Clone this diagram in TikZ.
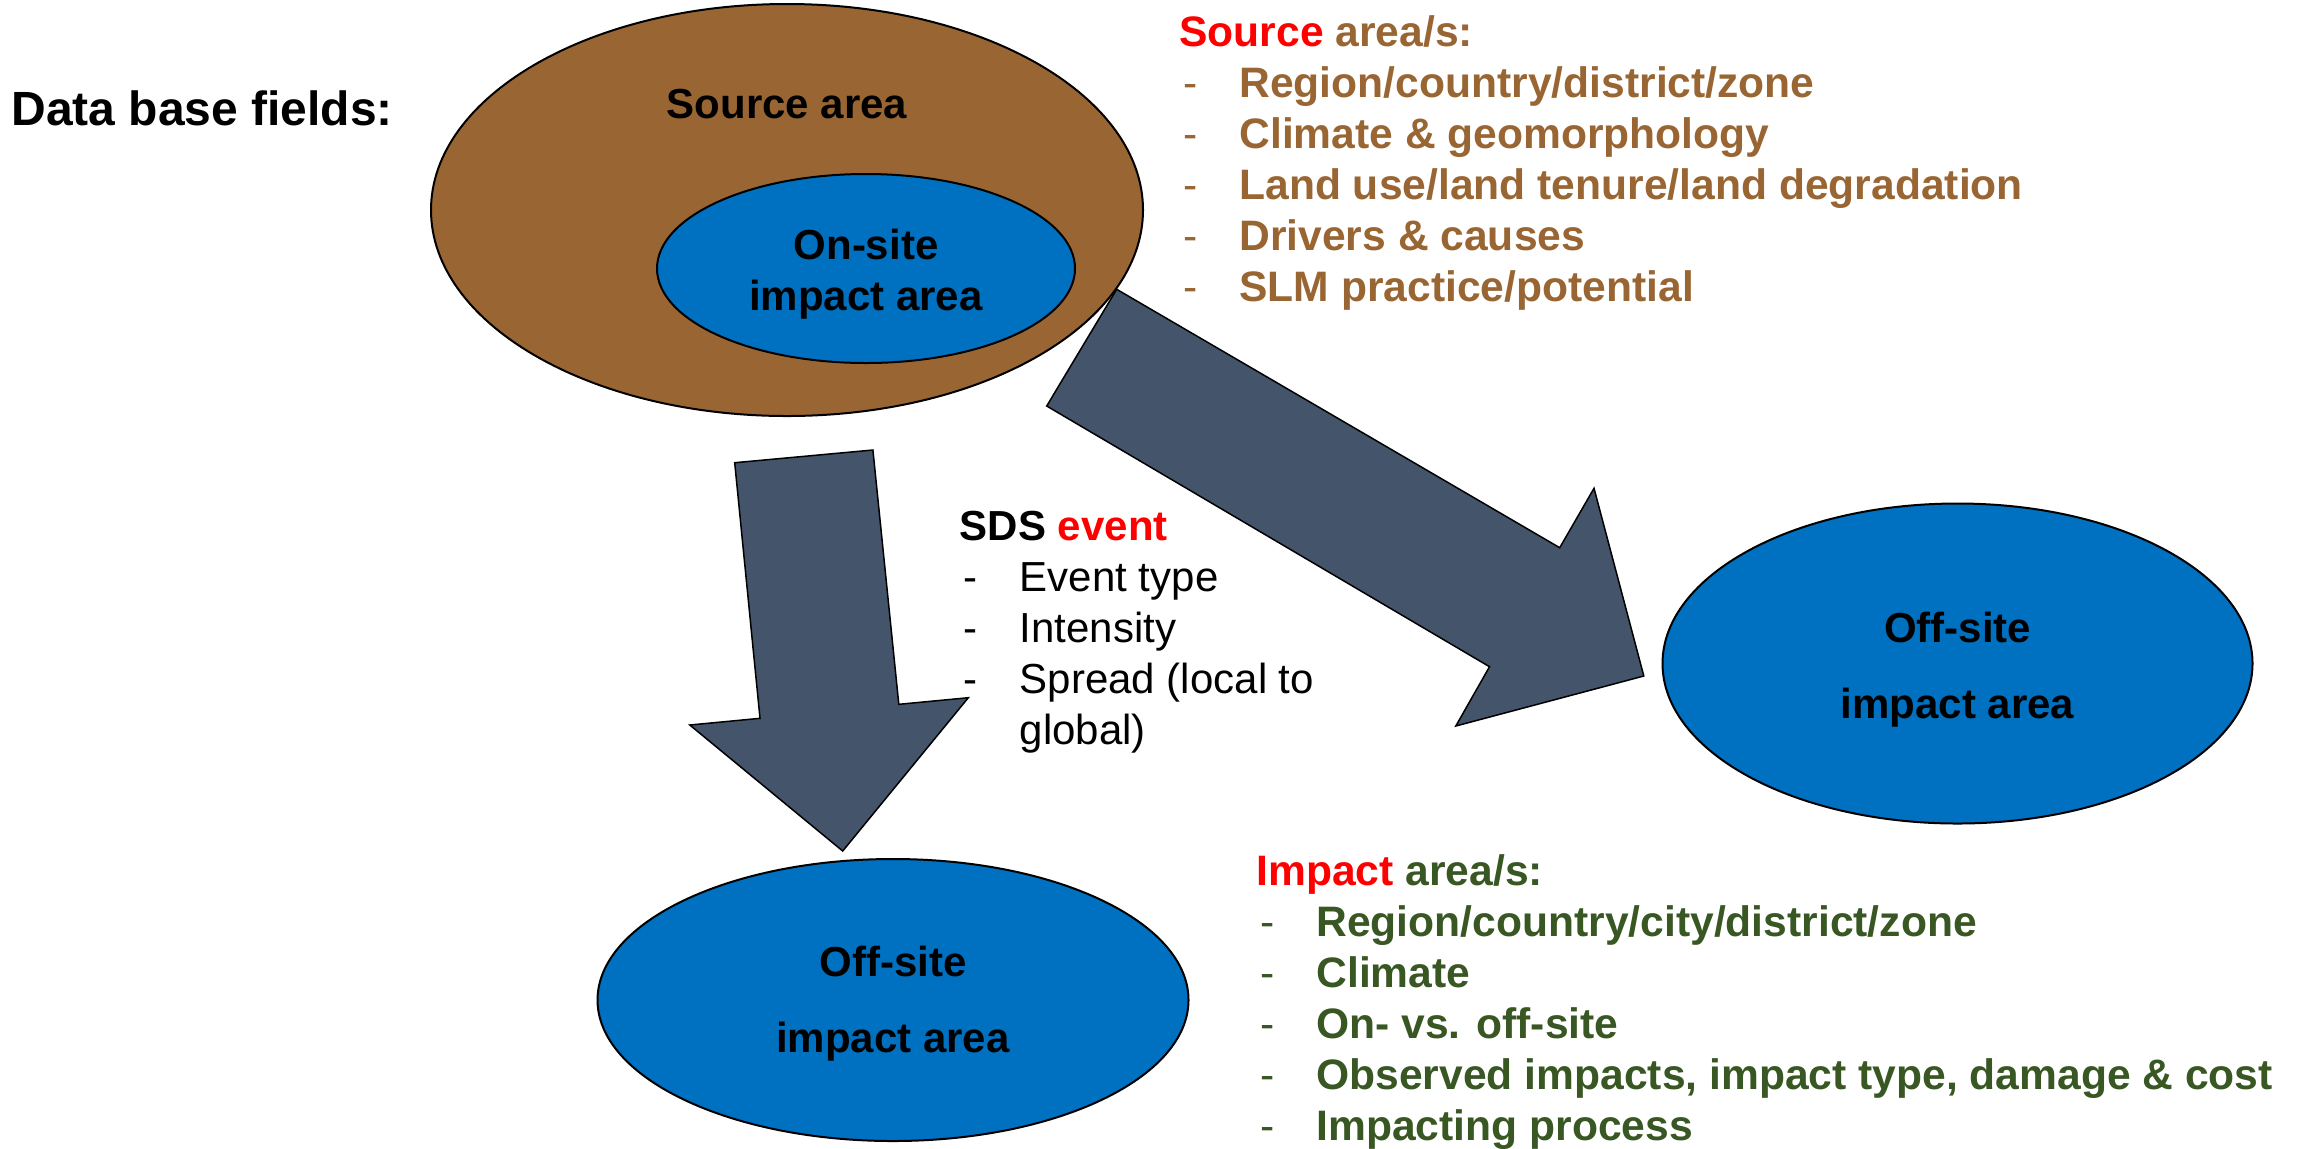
\documentclass[tikz,border=0pt]{standalone}
\usepackage{fontspec}
\setmainfont{Liberation Sans}
\usepackage{xcolor}
\usetikzlibrary{shapes.geometric}

\definecolor{soilbrown}{HTML}{996633}
\definecolor{siteblue}{HTML}{0070C0}
\definecolor{flowgray}{HTML}{44546A}
\definecolor{impactgreen}{HTML}{385723}
\definecolor{keyred}{HTML}{FF0000}

\newcommand{\fielditem}[1]{\makebox[30pt][l]{\hspace{2pt}\mdseries-}#1}

\begin{document}
\begin{tikzpicture}[x=0.5pt,y=-0.5pt,
	area/.style={ellipse, draw, line width=1pt, inner sep=0pt},
	lbl/.style={inner sep=0pt, align=center, font=\bfseries\fontsize{21}{25.5}\selectfont},
	flow/.style={draw, fill=flowgray, line width=0.75pt, line join=miter},
	fields/.style={anchor=base west, inner sep=0pt, align=left,
		font=\bfseries\fontsize{21.3}{25.5}\selectfont}]

\useasboundingbox (0,0) rectangle (2305,1148);

\node[anchor=base west, inner sep=0pt, font=\bfseries\fontsize{24}{28}\selectfont] (title) at (11,125) {Data base fields:};

\node[area, fill=soilbrown, minimum width=356pt, minimum height=206pt] (source) at (787,210) {};
\node[lbl, anchor=base] (sourcelbl) at (787,118) {Source area};
\node[area, fill=siteblue, minimum width=209pt, minimum height=94.5pt] (onsite) at (866,268.5) {};
\node[lbl] (onsitelbl) at ([yshift=-3pt]onsite.center) {On-site\\impact area};
\node[area, fill=siteblue, minimum width=295pt, minimum height=160pt] (offright) at (1957.5,663.5) {};
\node[lbl, font=\bfseries\fontsize{21}{38}\selectfont] (offrightlbl) at ([yshift=-3pt]offright.center) {Off-site\\impact area};
\node[area, fill=siteblue, minimum width=295.5pt, minimum height=141pt] (offdown) at (893,1000) {};
\node[lbl, font=\bfseries\fontsize{21}{38}\selectfont] (offdownlbl) at ([yshift=-2pt]offdown.center) {Off-site\\impact area};

\draw[flow] (734.7,462.7) -- (872.9,450) -- (898.8,704.3) -- (968.3,697.7)
	-- (842.7,851) -- (689.8,725) -- (760,718.3) -- cycle;
\draw[flow] (1116.7,289.3) -- (1559.7,547.7) -- (1594,488.3) -- (1643.8,676)
	-- (1455.8,726) -- (1489.5,666.7) -- (1046.7,406) -- cycle;

% base anchor of these lists sits on their last line
\node[fields, text=soilbrown] (srcfields) at (1179,301.7) {\textcolor{keyred}{Source} area/s:\\
	\fielditem{Region/country/district/zone}\\
	\fielditem{Climate \& geomorphology}\\
	\fielditem{Land use/land tenure/land degradation}\\
	\fielditem{Drivers \& causes}\\
	\fielditem{SLM practice/potential}};

\node[fields, font=\fontsize{21}{25.5}\selectfont] (eventfields) at (959.5,744) {\textbf{SDS \textcolor{keyred}{event}}\\
	\fielditem{Event type}\\
	\fielditem{Intensity}\\
	\fielditem{Spread (local to}\\
	\makebox[30pt]{}global)};

\node[fields, text=impactgreen] (impfields) at (1256,1140) {\textcolor{keyred}{Impact} area/s:\\
	\fielditem{Region/country/city/district/zone}\\
	\fielditem{Climate}\\
	\fielditem{On- vs. off-site}\\
	\fielditem{Observed impacts, impact type, damage \& cost}\\
	\fielditem{Impacting process}};
\end{tikzpicture}
\end{document}
